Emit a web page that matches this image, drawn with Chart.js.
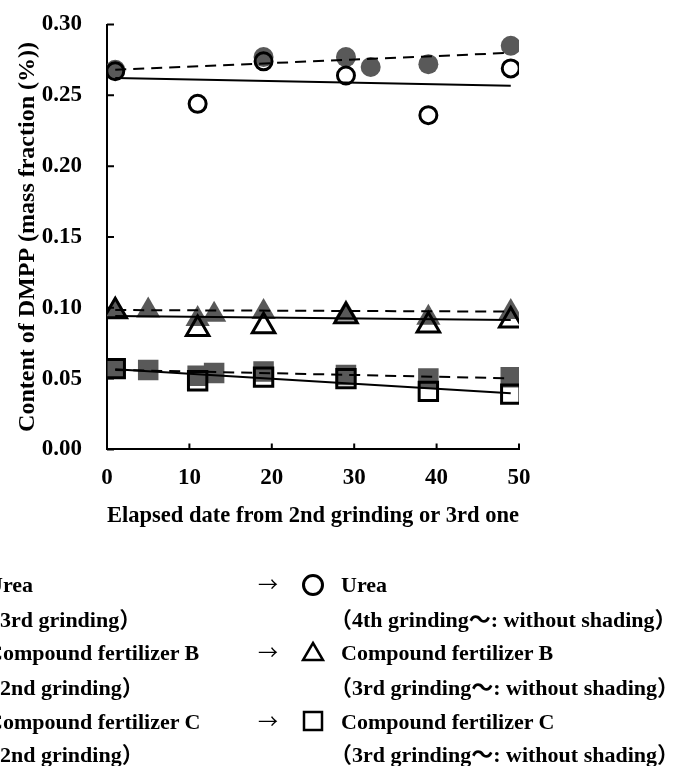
<!DOCTYPE html>
<html lang="en">
<head>
  <meta charset="UTF-8">
  <title>Content of DMPP</title>
  <script src="https://cdn.jsdelivr.net/npm/chart.js"></script>
  <style>
    body { margin: 0; background: #fff; }
    #wrap { position: relative; width: 673px; height: 766px; overflow: hidden; }
    #chart { position: absolute; left: 0; top: 0; }
    .lg { position: absolute; font: bold 22px "Liberation Serif", "Times New Roman", "Noto Sans CJK JP", serif; white-space: nowrap; line-height: 1; transform: translateY(-50%); }
    .ar { font-family: "Noto Sans CJK JP", sans-serif; font-weight: normal; font-size: 20px; }
    .mk { position: absolute; }
  </style>
</head>
<body>
<div id="wrap">
  <canvas id="chart" width="673" height="766"></canvas>

  <!-- legend (left column is cut off by the picture edge, as in the original) -->
  <div class="lg" style="left:-13px; top:585px">Urea</div>
  <div class="lg" style="left:-22px; top:620px">（3rd grinding）</div>
  <div class="lg" style="left:-13px; top:653px">Compound fertilizer B</div>
  <div class="lg" style="left:-22px; top:688px">（2nd grinding）</div>
  <div class="lg" style="left:-13px; top:722px">Compound fertilizer C</div>
  <div class="lg" style="left:-22px; top:755px">（2nd grinding）</div>

  <div class="lg ar" style="left:258px; top:584px">→</div>
  <div class="lg ar" style="left:258px; top:652px">→</div>
  <div class="lg ar" style="left:258px; top:721px">→</div>

  <svg class="mk" style="left:301px; top:573px" width="24" height="24"><circle cx="12" cy="12" r="9.5" fill="none" stroke="#000" stroke-width="3"/></svg>
  <svg class="mk" style="left:301px; top:640px" width="24" height="24"><polygon points="12,3 22,20 2,20" fill="none" stroke="#000" stroke-width="2.5"/></svg>
  <svg class="mk" style="left:301px; top:709px" width="24" height="24"><rect x="3" y="3" width="18" height="18" fill="none" stroke="#000" stroke-width="2.5"/></svg>

  <div class="lg" style="left:341px; top:585px">Urea</div>
  <div class="lg" style="left:330px; top:620px">（4th grinding～: without shading）</div>
  <div class="lg" style="left:341px; top:653px">Compound fertilizer B</div>
  <div class="lg" style="left:330px; top:688px">（3rd grinding～: without shading）</div>
  <div class="lg" style="left:341px; top:722px">Compound fertilizer C</div>
  <div class="lg" style="left:330px; top:755px">（3rd grinding～: without shading）</div>
</div>

<script>
  // Urea, 3rd grinding (shaded) and 4th grinding (open)
  const ureaDays3 = [1, 19, 29, 32, 39, 49];
  const urea3 = [0.268, 0.277, 0.277, 0.270, 0.272, 0.285];
  const ureaDays4 = [1, 11, 19, 29, 39, 49];
  const urea4 = [0.267, 0.244, 0.274, 0.264, 0.236, 0.269];

  // Compound fertilizer B, 2nd grinding (shaded) and 3rd grinding (open)
  const bDays2 = [1, 5, 11, 13, 19, 29, 39, 49];
  const b2 = [0.098, 0.098, 0.092, 0.095, 0.097, 0.096, 0.093, 0.097];
  const bDays3 = [1, 11, 19, 29, 39, 49];
  const b3 = [0.0975, 0.085, 0.087, 0.094, 0.0875, 0.091];

  // Compound fertilizer C, 2nd grinding (shaded) and 3rd grinding (open)
  const cDays2 = [1, 5, 11, 13, 19, 29, 39, 49];
  const c2 = [0.057, 0.056, 0.052, 0.054, 0.055, 0.0525, 0.050, 0.051];
  const cDays3 = [1, 11, 19, 29, 39, 49];
  const c3 = [0.057, 0.0485, 0.051, 0.050, 0.041, 0.039];

  // trend lines, values read at both ends
  const trendDays = [1, 49];
  const ureaTrend3 = [0.268, 0.280];
  const ureaTrend4 = [0.2623, 0.2568];
  const bTrend2 = [0.0984, 0.0973];
  const bTrend3 = [0.0942, 0.0914];
  const cTrend2 = [0.0561, 0.0502];
  const cTrend3 = [0.0566, 0.0396];

  const yMin = 0, yMax = 0.30, yStep = 0.05;
  const xMin = 0, xMax = 50, xStep = 10;

  const GRAY = '#595959';
  const FONT = '"Liberation Serif", "Times New Roman", serif';

  function pts(xs, ys) {
    return xs.map((x, i) => ({ x: x, y: ys[i] }));
  }

  function trend(ys, dashed) {
    return {
      data: pts(trendDays, ys),
      showLine: true,
      borderColor: '#000',
      borderWidth: 2,
      borderDash: dashed ? [11, 7] : [],
      pointRadius: 0,
      fill: false
    };
  }

  function open(xs, ys, style, r) {
    return {
      data: pts(xs, ys),
      pointStyle: style,
      pointRadius: r,
      pointBackgroundColor: 'rgba(0,0,0,0)',
      pointBorderColor: '#000',
      pointBorderWidth: 3
    };
  }

  function shaded(xs, ys, style, r) {
    return {
      data: pts(xs, ys),
      pointStyle: style,
      pointRadius: r,
      pointBackgroundColor: GRAY,
      pointBorderColor: GRAY,
      pointBorderWidth: 0
    };
  }

  // inward tick marks
  const innerTicks = {
    id: 'innerTicks',
    afterDraw(chart) {
      const ctx = chart.ctx;
      const xs = chart.scales.x, ys = chart.scales.y;
      ctx.save();
      ctx.strokeStyle = '#000';
      ctx.lineWidth = 2;
      ctx.beginPath();
      ys.ticks.forEach(t => {
        const py = ys.getPixelForValue(t.value);
        ctx.moveTo(xs.left, py);
        ctx.lineTo(xs.left + 7, py);
      });
      xs.ticks.forEach(t => {
        const px = xs.getPixelForValue(t.value);
        ctx.moveTo(px, ys.bottom);
        ctx.lineTo(px, ys.bottom - 6);
      });
      ctx.stroke();
      ctx.restore();
    }
  };

  // first dataset is drawn on top
  const datasets = [
    trend(ureaTrend4, false), trend(ureaTrend3, true),
    trend(bTrend3, false), trend(bTrend2, true),
    trend(cTrend3, false), trend(cTrend2, true),
    open(ureaDays4, urea4, 'circle', 8.5),
    open(bDays3, b3, 'triangle', 13),
    open(cDays3, c3, 'rect', 13),
    shaded(ureaDays3, urea3, 'circle', 10),
    shaded(bDays2, b2, 'triangle', 14),
    shaded(cDays2, c2, 'rect', 14.5)
  ];

  new Chart(document.getElementById('chart'), {
    type: 'scatter',
    data: { datasets: datasets },
    options: {
      responsive: false,
      animation: false,
      layout: { padding: { left: 0, right: 154, top: 24.5, bottom: 235.6 } },
      plugins: { legend: { display: false }, tooltip: { enabled: false } },
      scales: {
        x: {
          min: xMin, max: xMax,
          grid: { display: false },
          border: { display: true, color: '#000', width: 2 },
          ticks: { stepSize: xStep, padding: 7, color: '#000', font: { family: FONT, size: 23, weight: 'bold' } },
          title: { display: true, text: 'Elapsed date from 2nd grinding or 3rd one', color: '#000', padding: 0, font: { family: FONT, size: 23.5, weight: 'bold' } },
          afterFit(scale) { scale.height = 81; }
        },
        y: {
          min: yMin, max: yMax,
          grid: { display: false },
          border: { display: true, color: '#000', width: 2 },
          ticks: {
            stepSize: yStep, padding: 17, color: '#000',
            font: { family: FONT, size: 23, weight: 'bold' },
            callback: v => v.toFixed(2)
          },
          title: { display: true, text: 'Content of DMPP (mass fraction (%))', color: '#000', padding: { top: 13, bottom: 0 }, font: { family: FONT, size: 24, weight: 'bold' } },
          afterFit(scale) {
            scale.width = 107;
            // let the layout padding alone decide where the plot starts
            scale.paddingTop = 0;
            scale.paddingBottom = 0;
          }
        }
      }
    },
    plugins: [innerTicks]
  });
</script>
</body>
</html>
